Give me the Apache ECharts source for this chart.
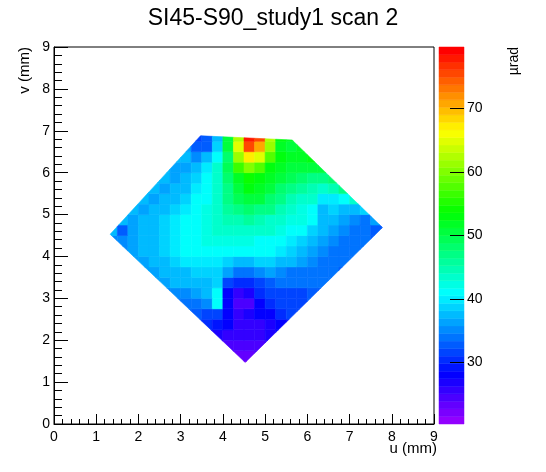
<!DOCTYPE html>
<html>
<head>
<meta charset="utf-8">
<title>SI45-S90_study1 scan 2</title>
<script src="https://cdn.jsdelivr.net/npm/echarts@6/dist/echarts.min.js"></script>
<style>
  html, body { margin: 0; padding: 0; background: #fff; }
  #chart { width: 546px; height: 472px; }
</style>
</head>
<body>
<div id="chart"></div>
<script>
// map bins are 0.25 mm squares; row r starts at v = rowFirstV + r*binStep
var binStep = 0.25;
var rowFirstV = 1.25;
// u of the first bin in each row (bottom row first)
var rowStartU = [4.25, 4.0, 3.75, 3.5, 3.25, 3.0, 2.75, 2.5, 2.25, 2.0, 1.75, 1.5,
                 1.25, 1.25, 1.5, 1.75, 2.0, 2.0, 2.25, 2.5, 2.75, 3.0, 3.25];
// µrad values, bottom row first
var zRows = [
  [22.5, 22.5],
  [24, 23.5, 23.5, 24],
  [25, 24.5, 24, 24, 24.5, 25.5],
  [27, 26.5, 26, 25.5, 25.5, 26, 26.5, 27.5],
  [31.5, 30.5, 29, 27.5, 26, 25.5, 26, 27, 28, 28.5],
  [33.5, 33, 32, 31, 27.5, 26, 26.5, 28, 28.5, 30, 31, 32],
  [34.5, 34.5, 34.5, 35.5, 41, 28, 24.5, 25, 27.5, 30, 31, 32, 32, 33],
  [35.5, 35.5, 35.5, 36, 37, 41, 28, 26, 27, 30, 32, 32, 32, 32, 33, 33],
  [36, 36, 37, 37, 37, 38, 39, 31.5, 30, 30, 31, 33, 33.5, 33.5, 33.5, 33.5, 33.5, 33.5],
  [36, 36, 37, 38, 38, 38.5, 39, 39, 36, 34.5, 34.5, 35.5, 36, 35.5, 34.5, 34.5, 34, 33.5, 33.5, 33],
  [36, 36, 37, 38, 39, 39.5, 40, 40, 40, 39, 38, 38, 39, 39, 38, 37, 36, 35.5, 34.5, 34, 33.5, 33.5],
  [35, 36, 37, 38, 39, 40, 40.5, 41, 41.5, 41.5, 41.5, 41, 40.5, 40.5, 40.5, 40, 39, 38, 36, 35.5, 34.5, 34, 33.5, 33.5],
  [35, 35.5, 36, 37, 38, 39, 40, 40.5, 41.5, 42, 42.5, 42.5, 42, 42, 41.5, 41.5, 40.5, 40, 39, 37, 36, 35.5, 34.5, 34, 33.5, 33],
  [37, 33, 36, 37, 38, 39, 40, 40.5, 41.5, 42, 43, 43.5, 44, 44, 43.5, 43, 42, 41.5, 40.5, 39, 37, 36, 35.5, 34.5, 34, 33, 33],
  [38, 36, 37, 38, 39, 40, 40.5, 41.5, 42, 43, 44.5, 45, 46, 45, 44, 43, 42.5, 42, 40.5, 37, 37, 36, 35.5, 34.5, 36],
  [38, 36.5, 37, 38, 39, 40, 41, 42.5, 43.5, 46, 47.5, 48.5, 47.5, 46.5, 45, 43.5, 42.5, 41.5, 37.5, 39, 38, 37, 39],
  [38, 36.5, 37, 38, 39, 40.5, 41.5, 43.5, 47, 49.5, 51, 50, 48.5, 47, 45, 44, 43.5, 40, 40, 41, 43],
  [38, 38, 36.5, 37, 38, 39.5, 41, 44, 47.5, 51, 52.5, 51.5, 50, 48.5, 47, 46, 45, 44, 45, 47],
  [38, 37, 36.5, 37.5, 39, 40.5, 44, 48.5, 52, 54, 53, 51.5, 50, 49.5, 48.5, 47.5, 47, 48],
  [38, 36.5, 36, 38, 40, 44, 49.5, 56, 60, 58, 53.5, 52, 51, 50, 50, 50],
  [38, 37, 35.5, 38, 41.5, 48.5, 61, 67, 65, 58, 52.5, 51.5, 52, 53],
  [36, 33, 33, 39, 50, 64.5, 75.5, 71, 61, 52, 50, 52],
  [31, 32.5, 38, 50, 63, 78, 76, 62, 52.5, 52]
];
// edge of the scanned area (u, v in mm)
var outline = [[1.33, 4.53], [3.47, 6.88], [5.64, 6.78], [7.78, 4.69], [4.53, 1.47]];

var zMin = 20.3, zMax = 79.7;
var nColors = 50;
var colorTicks = [30, 40, 50, 60, 70];

var font = "'Liberation Sans', Arial, Helvetica, sans-serif";

function hslHex(h) {
  // full saturation, lightness 0.5
  var hp = h / 60, x = 1 - Math.abs(hp % 2 - 1), r = 0, g = 0, b = 0;
  if (hp < 1) { r = 1; g = x; } else if (hp < 2) { r = x; g = 1; }
  else if (hp < 3) { g = 1; b = x; } else if (hp < 4) { g = x; b = 1; }
  else if (hp < 5) { r = x; b = 1; } else { r = 1; b = x; }
  function c(v) { var s = Math.round(v * 255).toString(16); return s.length < 2 ? '0' + s : s; }
  return '#' + c(r) + c(g) + c(b);
}

// ROOT pretty palette, violet -> red
var palette = [];
for (var i = 0; i < nColors; i++) palette.push(hslHex(280 - (i + 1) * 280 / nColors));

var bandW = (zMax - zMin) / nColors;
var pieces = [], bands = [];
for (var i = 0; i < nColors; i++) {
  var lo = zMin + i * bandW, hi = zMin + (i + 1) * bandW;
  var pc = { gte: lo, color: palette[i] };
  if (i < nColors - 1) pc.lt = hi; else pc.lte = hi;
  pieces.push(pc);
  bands.push([lo, hi, (lo + hi) / 2]);
}

var cells = [];
zRows.forEach(function (row, r) {
  row.forEach(function (z, k) {
    cells.push([rowStartU[r] + k * binStep, rowFirstV + r * binStep, z]);
  });
});

function clipToOutline(poly, edge) {
  var area = 0;
  for (var i = 0; i < edge.length; i++) {
    var p = edge[i], q = edge[(i + 1) % edge.length];
    area += p[0] * q[1] - q[0] * p[1];
  }
  var sgn = area > 0 ? 1 : -1;
  var out = poly;
  for (var i = 0; i < edge.length && out.length; i++) {
    var a = edge[i], b = edge[(i + 1) % edge.length];
    var side = function (p) { return sgn * ((b[0] - a[0]) * (p[1] - a[1]) - (b[1] - a[1]) * (p[0] - a[0])); };
    var input = out;
    out = [];
    for (var j = 0; j < input.length; j++) {
      var cur = input[j], prev = input[(j + input.length - 1) % input.length];
      var dc = side(cur), dp = side(prev);
      if (dc >= 0) {
        if (dp < 0) { var t = dp / (dp - dc); out.push([prev[0] + t * (cur[0] - prev[0]), prev[1] + t * (cur[1] - prev[1])]); }
        out.push(cur);
      } else if (dp >= 0) {
        var t = dp / (dp - dc);
        out.push([prev[0] + t * (cur[0] - prev[0]), prev[1] + t * (cur[1] - prev[1])]);
      }
    }
  }
  return out;
}

function renderCell(params, api) {
  var u0 = api.value(0), v0 = api.value(1);
  var a = api.coord([u0, v0]), b = api.coord([u0 + binStep, v0 + binStep]);
  var rect = [[a[0], a[1]], [b[0], a[1]], [b[0], b[1]], [a[0], b[1]]];
  var edge = outline.map(function (p) { return api.coord(p); });
  var pts = clipToOutline(rect, edge);
  if (pts.length < 3) return null;
  var col = api.visual('color');
  return { type: 'polygon', shape: { points: pts }, style: { fill: col, stroke: col, lineWidth: 0.6 } };
}

function renderBand(params, api) {
  var a = api.coord([0, api.value(0)]), b = api.coord([1, api.value(1)]);
  var col = api.visual('color');
  return { type: 'rect', shape: { x: a[0], y: b[1], width: b[0] - a[0], height: a[1] - b[1] },
           style: { fill: col, stroke: col, lineWidth: 0.5 } };
}

var black = { color: '#000', width: 1 };
var chart = echarts.init(document.getElementById('chart'));
var option = {
  animation: false,
  title: {
    text: 'SI45-S90_study1 scan 2', left: 'center', top: 2,
    textStyle: { fontFamily: font, fontSize: 23, fontWeight: 'normal', color: '#000' }
  },
  grid: [
    { left: 54, top: 47, width: 380, height: 377, show: true, borderColor: '#000', borderWidth: 1 },
    { left: 439, top: 47, width: 25, height: 377 }
  ],
  xAxis: [
    {
      gridIndex: 0, type: 'value', min: 0, max: 9, interval: 1,
      name: 'u (mm)', nameLocation: 'end', nameGap: 3, nameMoveOverlap: false,
      nameTextStyle: { fontFamily: font, fontSize: 15, color: '#000', align: 'right', verticalAlign: 'top', padding: [17, 0, 0, 0] },
      axisLine: { onZero: false, lineStyle: black },
      axisTick: { inside: true, length: 10, lineStyle: black },
      minorTick: { show: true, splitNumber: 5, length: 5, lineStyle: black },
      axisLabel: { fontFamily: font, fontSize: 14, color: '#000', margin: 6 },
      splitLine: { show: false }
    },
    { gridIndex: 1, type: 'value', min: 0, max: 1, show: false }
  ],
  yAxis: [
    {
      gridIndex: 0, type: 'value', min: 0, max: 9, interval: 1,
      name: 'v (mm)', nameLocation: 'end', nameGap: 0, nameRotate: 90, nameMoveOverlap: false,
      nameTextStyle: { fontFamily: font, fontSize: 15, color: '#000', align: 'right', verticalAlign: 'bottom', padding: [0, 0, 22, 0] },
      axisLine: { onZero: false, lineStyle: black },
      axisTick: { inside: true, length: 14, lineStyle: black },
      minorTick: { show: true, splitNumber: 5, length: 8, lineStyle: black },
      axisLabel: { fontFamily: font, fontSize: 14, color: '#000', margin: 4 },
      splitLine: { show: false }
    },
    {
      gridIndex: 1, type: 'value', min: zMin, max: zMax, position: 'right', z: 10,
      name: 'µrad', nameLocation: 'end', nameGap: 0, nameRotate: 90, nameMoveOverlap: false,
      nameTextStyle: { fontFamily: font, fontSize: 14, color: '#000', align: 'right', verticalAlign: 'top', padding: [43, 0, 0, 0] },
      axisLine: { show: false, onZero: false },
      axisTick: { show: true, inside: true, length: 14, customValues: colorTicks, lineStyle: black },
      axisLabel: { fontFamily: font, fontSize: 14, color: '#000', margin: 3, customValues: colorTicks },
      splitLine: { show: false }
    }
  ],
  visualMap: { type: 'piecewise', show: false, dimension: 2, seriesIndex: [0, 1], pieces: pieces },
  series: [
    { type: 'custom', xAxisIndex: 0, yAxisIndex: 0, data: cells, renderItem: renderCell, encode: { x: 0, y: 1 } },
    { type: 'custom', xAxisIndex: 1, yAxisIndex: 1, data: bands, renderItem: renderBand, encode: { y: [0, 1] }, clip: false, z: 1 }
  ]
};
chart.setOption(option);
</script>
</body>
</html>
